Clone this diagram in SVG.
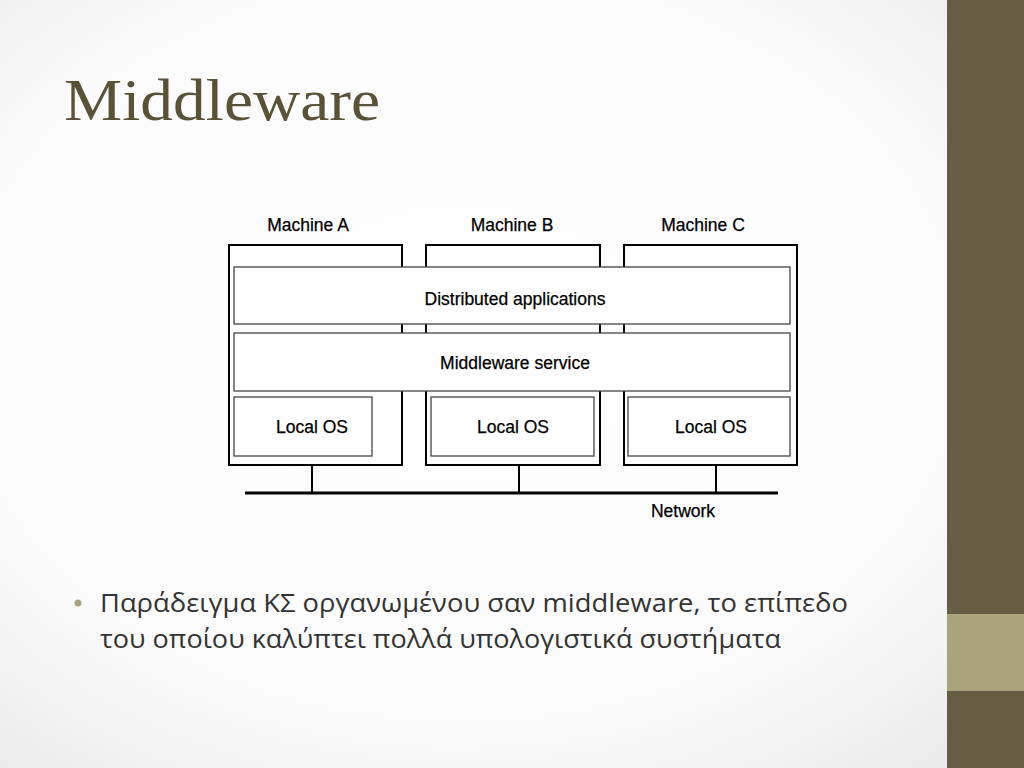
<svg xmlns="http://www.w3.org/2000/svg" width="1024" height="768" viewBox="0 0 1024 768">
<defs>
<radialGradient id="bg" cx="0.45" cy="0.45" r="0.7">
<stop offset="0" stop-color="#ffffff"/><stop offset="0.7" stop-color="#fbfbfb"/><stop offset="1" stop-color="#ececec"/>
</radialGradient>
<style>
.box{fill:#fff;stroke:#000;stroke-width:2}
.inner{fill:#fff;stroke:#444;stroke-width:1.3}
.lbl{font-family:"Liberation Sans",Arial,sans-serif;font-size:17.5px;fill:#000;text-anchor:middle;stroke:#000;stroke-width:0.25}
.net{stroke:#000;stroke-width:3;fill:none}
.drop{stroke:#000;stroke-width:2;fill:none}
.body{font-family:"Open Sans","Noto Sans",sans-serif;font-size:25px;fill:#333}
</style>
</defs>
<rect width="1024" height="768" fill="url(#bg)"/>
<rect x="947" y="0" width="77" height="768" fill="#675c44"/>
<rect x="947" y="614" width="77" height="77" fill="#a9a47c"/>
<text x="64" y="120" font-family="'Liberation Serif','DejaVu Serif',serif" font-size="60" fill="#5a5236" textLength="316" lengthAdjust="spacingAndGlyphs">Middleware</text>
<g id="machineA"><rect class="box" x="229" y="245" width="173" height="220"/><text class="lbl" x="308" y="231">Machine A</text></g>
<g id="machineB"><rect class="box" x="426" y="245" width="174" height="220"/><text class="lbl" x="512" y="231">Machine B</text></g>
<g id="machineC"><rect class="box" x="624" y="245" width="173" height="220"/><text class="lbl" x="703" y="231">Machine C</text></g>
<g id="dist"><rect class="inner" x="234" y="267" width="556" height="57"/><text class="lbl" x="515" y="305">Distributed applications</text></g>
<g id="mw"><rect class="inner" x="234" y="333" width="556" height="58"/><text class="lbl" x="515" y="369">Middleware service</text></g>
<g id="osA"><rect class="inner" x="234" y="397" width="138" height="59"/><text class="lbl" x="312" y="433">Local OS</text></g>
<g id="osB"><rect class="inner" x="431" y="397" width="163" height="59"/><text class="lbl" x="513" y="433">Local OS</text></g>
<g id="osC"><rect class="inner" x="628" y="397" width="162" height="59"/><text class="lbl" x="711" y="433">Local OS</text></g>
<g id="connectors">
<line class="net" x1="245" y1="493" x2="778" y2="493"/>
<line class="drop" x1="312" y1="465" x2="312" y2="493"/>
<line class="drop" x1="519" y1="465" x2="519" y2="493"/>
<line class="drop" x1="716" y1="465" x2="716" y2="493"/>
</g>
<text class="lbl" x="683" y="517">Network</text>
<circle cx="78" cy="603" r="3.5" fill="#a9a47c"/>
<text class="body" x="100" y="612" textLength="748" lengthAdjust="spacingAndGlyphs">Παράδειγμα ΚΣ οργανωμένου σαν middleware, το επίπεδο</text>
<text class="body" x="100" y="648" textLength="681" lengthAdjust="spacingAndGlyphs">του οποίου καλύπτει πολλά υπολογιστικά συστήματα</text>
</svg>
